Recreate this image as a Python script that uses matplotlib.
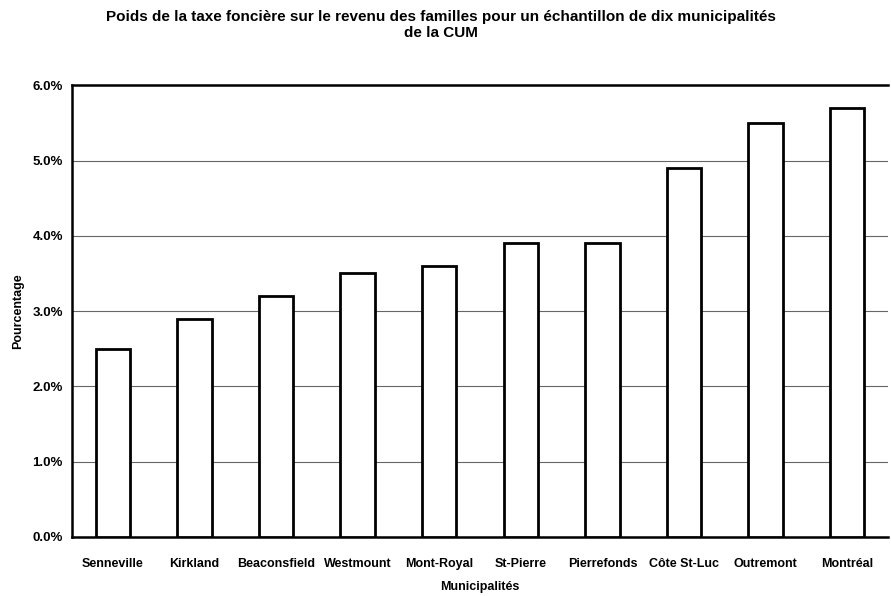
import matplotlib
matplotlib.use("Agg")
import matplotlib.pyplot as plt

municipalites = ["Senneville", "Kirkland", "Beaconsfield", "Westmount", "Mont-Royal",
                 "St-Pierre", "Pierrefonds", "Côte St-Luc", "Outremont", "Montréal"]
pourcentages = [2.5, 2.9, 3.2, 3.5, 3.6, 3.9, 3.9, 4.9, 5.5, 5.7]
yticks = [0, 1, 2, 3, 4, 5, 6]
ytick_labels = ["0.0%", "1.0%", "2.0%", "3.0%", "4.0%", "5.0%", "6.0%"]

plt.rcParams["font.family"] = ["Liberation Sans", "DejaVu Sans"]

fig = plt.figure(figsize=(8.91, 5.96), dpi=100)
ax = fig.add_axes([0.0808, 0.099, 0.9158, 0.758])

x = range(len(municipalites))
ax.bar(x, pourcentages, width=0.42, color="white", edgecolor="black", linewidth=2.0, zorder=3)

ax.set_xlim(-0.5, len(municipalites) - 0.5)
ax.set_ylim(0, 6)
ax.set_yticks(yticks)
ax.set_yticklabels(ytick_labels, fontsize=9.5, fontweight="bold")
ax.set_xticks(list(x))
ax.set_xticklabels(municipalites, fontsize=9, fontweight="bold")
ax.tick_params(axis="x", length=0, pad=15)
ax.tick_params(axis="y", length=0, pad=6.5)

ax.yaxis.grid(True, color="#666666", linewidth=0.8, zorder=0)
ax.set_axisbelow(True)

for side in ["left", "bottom", "top"]:
    ax.spines[side].set_color("black")
    ax.spines[side].set_linewidth(1.8)
ax.spines["right"].set_visible(False)

ax.set_ylabel("Pourcentage", fontsize=9, fontweight="bold", labelpad=6)
ax.set_xlabel("Municipalités", fontsize=9, fontweight="bold", labelpad=8)

fig.text(0.495, 0.983, "Poids de la taxe foncière sur le revenu des familles pour un échantillon de dix municipalités\nde la CUM",
         ha="center", va="top", fontsize=11, fontweight="bold", linespacing=1.15)

fig.savefig("out.png", dpi=100, facecolor="white")
